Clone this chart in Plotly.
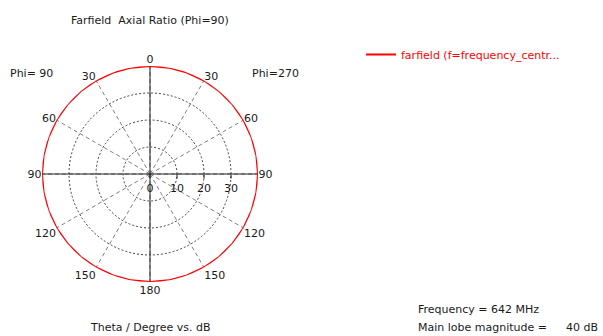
import plotly.graph_objects as go

# Farfield axial ratio cut at Phi=90 / Phi=270, theta in degrees (clockwise from top)
theta_deg = [0, 10, 20, 30, 40, 50, 60, 70, 80, 90, 100, 110, 120,
             130, 140, 150, 160, 170, 180, 190, 200, 210, 220, 230, 240,
             250, 260, 270, 280, 290, 300, 310, 320, 330, 340, 350, 360]
axial_ratio_db = [40, 40, 40, 40, 40, 40, 40, 40, 40, 40, 40, 40, 40,
                  40, 40, 40, 40, 40, 40, 40, 40, 40, 40, 40, 40,
                  40, 40, 40, 40, 40, 40, 40, 40, 40, 40, 40, 40]

angle_ticks = [0, 30, 60, 90, 120, 150, 180, 210, 240, 270, 300, 330]
angle_labels = ["0", "30", "60", "90", "120", "150", "180", "150", "120", "90", "60", "30"]
radial_ticks = [0, 10, 20, 30]
radial_labels = ["0", "10", "20", "30"]
r_max = 40

series_name = "farfield (f=frequency_centr..."
frequency_text = "Frequency = 642 MHz"
main_lobe_label = "Main lobe magnitude ="
main_lobe_value = "40 dB"

FONT = "DejaVu Sans"
FS = 11
TXT = "#1a1a1a"
RED = "#ff0000"

fig = go.Figure()

# solid main axes through the centre
fig.add_trace(go.Scatterpolar(r=[r_max, 0, r_max], theta=[0, 0, 180], mode="lines",
                              line=dict(color="#202020", width=1), showlegend=False,
                              hoverinfo="skip"))
fig.add_trace(go.Scatterpolar(r=[r_max, 0, r_max], theta=[90, 90, 270], mode="lines",
                              line=dict(color="#202020", width=1), showlegend=False,
                              hoverinfo="skip"))

fig.add_trace(go.Scatterpolar(r=axial_ratio_db, theta=theta_deg, mode="lines",
                              name=series_name, line=dict(color=RED, width=2)))

cx, cy, R = 150, 174, 108
W, H = 603, 336
fig.update_layout(
    width=W, height=H,
    margin=dict(l=0, r=0, t=0, b=0),
    paper_bgcolor="white", plot_bgcolor="white",
    font=dict(family=FONT, size=FS, color=TXT),
    polar=dict(
        domain=dict(x=[(cx - R) / W, (cx + R) / W], y=[(H - cy - R) / H, (H - cy + R) / H]),
        bgcolor="white",
        angularaxis=dict(rotation=90, direction="clockwise",
                         tickmode="array", tickvals=angle_ticks, ticktext=angle_labels,
                         showline=False,
                         showgrid=True, gridcolor="#808080", gridwidth=1, griddash="4px,3px",
                         ticks="", layer="below traces",
                         tickfont=dict(family=FONT, size=FS, color=TXT)),
        radialaxis=dict(range=[0, r_max], angle=0, side="clockwise",
                        tickmode="array", tickvals=radial_ticks, ticktext=radial_labels,
                        tickangle=0, showline=False,
                        showgrid=True, gridcolor="#404040", gridwidth=1, griddash="2px,2px",
                        ticks="outside", ticklen=4, tickcolor="#202020",
                        layer="below traces",
                        tickfont=dict(family=FONT, size=FS, color=TXT)),
    ),
    showlegend=True,
    legend=dict(x=361 / W, y=1 - 40 / H, xanchor="left", yanchor="top",
                bgcolor="rgba(0,0,0,0)", font=dict(family=FONT, size=FS, color=RED)),
)

def label(text, x, y, xanchor="center"):
    fig.add_annotation(text=text, x=x / W, y=1 - y / H, xref="paper", yref="paper",
                       xanchor=xanchor, yanchor="middle", showarrow=False,
                       font=dict(family=FONT, size=FS, color=TXT))

label("Farfield  Axial Ratio (Phi=90)", 150, 20)
label("Phi= 90", 8, 73, "left")
label("Phi=270", 250, 73, "left")
label("Theta / Degree vs. dB", 150, 327)
label(frequency_text, 416, 309, "left")
label(main_lobe_label, 416, 327, "left")
label(main_lobe_value, 600, 327, "right")

fig.write_html("out.html")
